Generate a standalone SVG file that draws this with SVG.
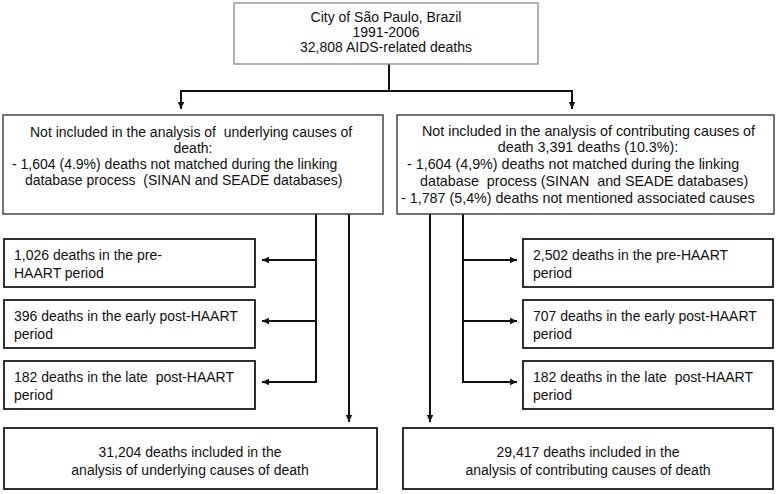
<svg xmlns="http://www.w3.org/2000/svg" width="779" height="494" viewBox="0 0 779 494">
<style>
  .bg{fill:#ffffff}
  .box{fill:#ffffff;stroke:#1a1a1a;stroke-width:1.8}
  .gbox{fill:#ffffff;stroke:#8a8a8a;stroke-width:1.3}
  .dbox{fill:#ffffff;stroke:#3a3a3a;stroke-width:1.4}
  text{font-family:"Liberation Sans",Arial,sans-serif;font-size:14px;fill:#111111}
  .r{font-size:14.3px}
  .c{text-anchor:middle}
  .ln{fill:none;stroke:#111111;stroke-width:2}
</style>
<defs>
  <marker id="ah" markerWidth="8" markerHeight="8" refX="7" refY="4" orient="auto" markerUnits="userSpaceOnUse">
    <path d="M0,0.8 L7,4 L0,7.2 Z" fill="#111111"/>
  </marker>
</defs>
<rect class="bg" x="0" y="0" width="779" height="494"/>

<g id="connectors">
  <path class="ln" d="M389,64 V91"/>
  <path class="ln" d="M181,91 H572"/>
  <path class="ln" d="M181,90 V109" marker-end="url(#ah)"/>
  <path class="ln" d="M572,90 V109" marker-end="url(#ah)"/>
  <path class="ln" d="M316,214 V382 H262" marker-end="url(#ah)"/>
  <path class="ln" d="M316,260 H262" marker-end="url(#ah)"/>
  <path class="ln" d="M316,321 H262" marker-end="url(#ah)"/>
  <path class="ln" d="M349,214 V422" marker-end="url(#ah)"/>
  <path class="ln" d="M430,214 V422" marker-end="url(#ah)"/>
  <path class="ln" d="M463,214 V382 H517" marker-end="url(#ah)"/>
  <path class="ln" d="M463,260 H517" marker-end="url(#ah)"/>
  <path class="ln" d="M463,321 H517" marker-end="url(#ah)"/>
</g>

<g id="top">
  <rect class="gbox" x="234" y="3" width="304" height="61"/>
  <text class="c" x="386" y="22">City of São Paulo, Brazil</text>
  <text class="c" x="386" y="37">1991-2006</text>
  <text class="c" x="386" y="52">32,808 AIDS-related deaths</text>
</g>

<g id="excl-underlying">
  <rect class="dbox" x="3" y="115" width="380" height="99"/>
  <text x="30" y="137" xml:space="preserve">Not included in the analysis of  underlying causes of</text>
  <text class="c" x="193" y="153">death:</text>
  <text x="12" y="169">- 1,604 (4.9%) deaths not matched during the linking</text>
  <text x="25" y="185" xml:space="preserve">database process  (SINAN and SEADE databases)</text>
</g>

<g id="excl-contributing">
  <rect class="dbox" x="397" y="115" width="377" height="99"/>
  <text class="r" x="422" y="136">Not included in the analysis of contributing causes of</text>
  <text class="r c" x="588" y="152">death 3,391 deaths (10.3%):</text>
  <text class="r" x="407" y="169">- 1,604 (4,9%) deaths not matched during the linking</text>
  <text class="r" x="420" y="186" xml:space="preserve">database  process (SINAN  and SEADE databases)</text>
  <text class="r" x="401" y="203">- 1,787 (5,4%) deaths not mentioned associated causes</text>
</g>

<g id="u-pre">
  <rect class="box" x="4" y="239" width="251" height="48"/>
  <text x="14" y="260">1,026 deaths in the pre-</text>
  <text x="14" y="278">HAART period</text>
</g>
<g id="u-early">
  <rect class="box" x="4" y="300" width="251" height="48"/>
  <text x="14" y="321">396 deaths in the early post-HAART</text>
  <text x="14" y="339">period</text>
</g>
<g id="u-late">
  <rect class="box" x="4" y="361" width="251" height="48"/>
  <text x="14" y="382" xml:space="preserve">182 deaths in the late  post-HAART</text>
  <text x="14" y="400">period</text>
</g>
<g id="u-included">
  <rect class="box" x="4" y="428" width="373" height="61"/>
  <text class="c" x="190" y="457">31,204 deaths included in the</text>
  <text class="c" x="190" y="475">analysis of underlying causes of death</text>
</g>

<g id="c-pre">
  <rect class="box" x="523" y="239" width="250" height="48"/>
  <text x="533" y="260">2,502 deaths in the pre-HAART</text>
  <text x="533" y="278">period</text>
</g>
<g id="c-early">
  <rect class="box" x="523" y="300" width="250" height="48"/>
  <text x="533" y="321">707 deaths in the early post-HAART</text>
  <text x="533" y="339">period</text>
</g>
<g id="c-late">
  <rect class="box" x="523" y="361" width="250" height="48"/>
  <text x="533" y="382" xml:space="preserve">182 deaths in the late  post-HAART</text>
  <text x="533" y="400">period</text>
</g>
<g id="c-included">
  <rect class="box" x="403" y="428" width="370" height="61"/>
  <text class="c" x="588" y="457">29,417 deaths included in the</text>
  <text class="c" x="588" y="475">analysis of contributing causes of death</text>
</g>
</svg>
